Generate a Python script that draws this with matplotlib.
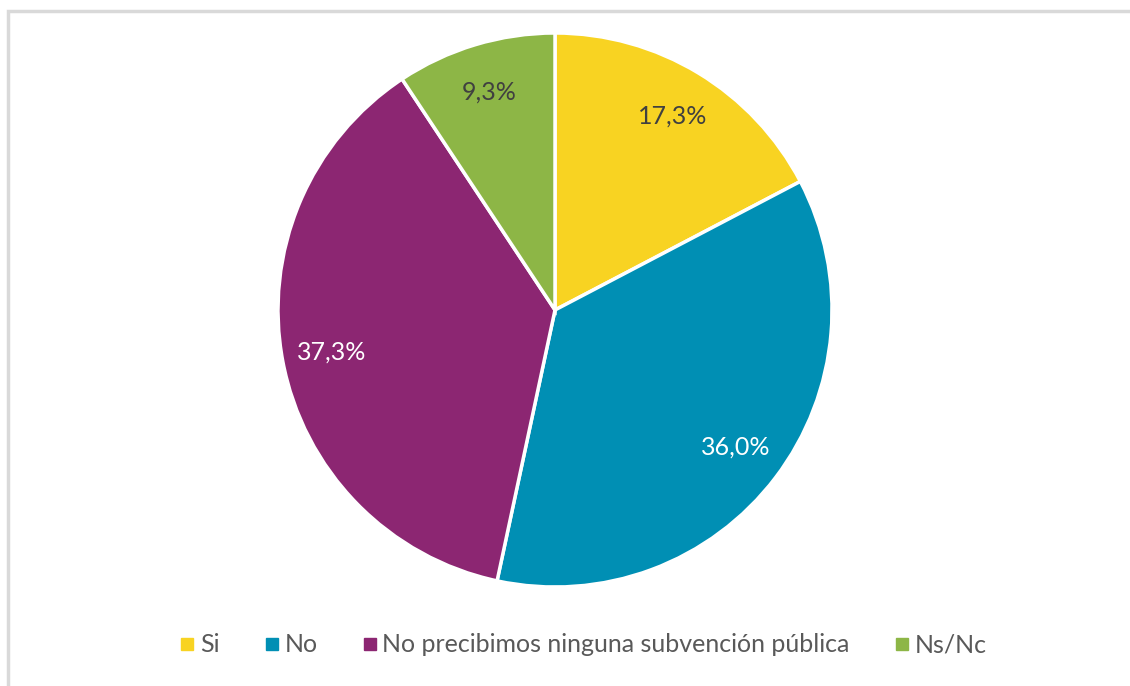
import matplotlib.pyplot as plt
from matplotlib.lines import Line2D
from matplotlib.patches import Rectangle

labels = ['Si', 'No', 'No precibimos ninguna subvención pública', 'Ns/Nc']
values = [17.3, 36.0, 37.3, 9.3]
colors = ['#F8D322', '#008FB4', '#8C2672', '#8DB646']
text_colors = ['#404040', 'white', 'white', '#404040']

plt.rcParams['font.family'] = ['Lato', 'DejaVu Sans']

fig = plt.figure(figsize=(11.3, 6.86), dpi=100)

# light grey frame on top and left, as in the screenshot
fig.add_artist(Rectangle((8 / 1130, -0.1), 1.2, (686 - 10.5) / 686 + 0.1,
                         transform=fig.transFigure, fill=False,
                         edgecolor='#D9D9D9', linewidth=2.5))

cx, cy, r = 555, 310, 277
ax = fig.add_axes([(cx - r) / 1130, (686 - cy - r) / 686, 2 * r / 1130, 2 * r / 686])
wedges, _, autotexts = ax.pie(values, colors=colors, startangle=90, counterclock=False,
                              radius=1, autopct=lambda p: '',
                              pctdistance=0.82,
                              wedgeprops=dict(edgecolor='white', linewidth=2.5))
for t, v, c in zip(autotexts, values, text_colors):
    t.set_text(f'{v:.1f}%'.replace('.', ','))
    t.set_color(c)
    t.set_fontsize(18)
ax.set_xlim(-1, 1)
ax.set_ylim(-1, 1)
ax.set_aspect('equal')

handles = [Line2D([], [], marker='s', linestyle='none', markersize=8,
                  markerfacecolor=c, markeredgecolor=c) for c in colors]
fig.legend(handles, labels, loc='center', bbox_to_anchor=(0.514, 1 - 645 / 686),
           ncol=4, frameon=False, fontsize=18, labelcolor='#595959',
           handletextpad=0.0, columnspacing=1.6, handlelength=1.0)

fig.savefig('out.png', dpi=100, facecolor='white')
